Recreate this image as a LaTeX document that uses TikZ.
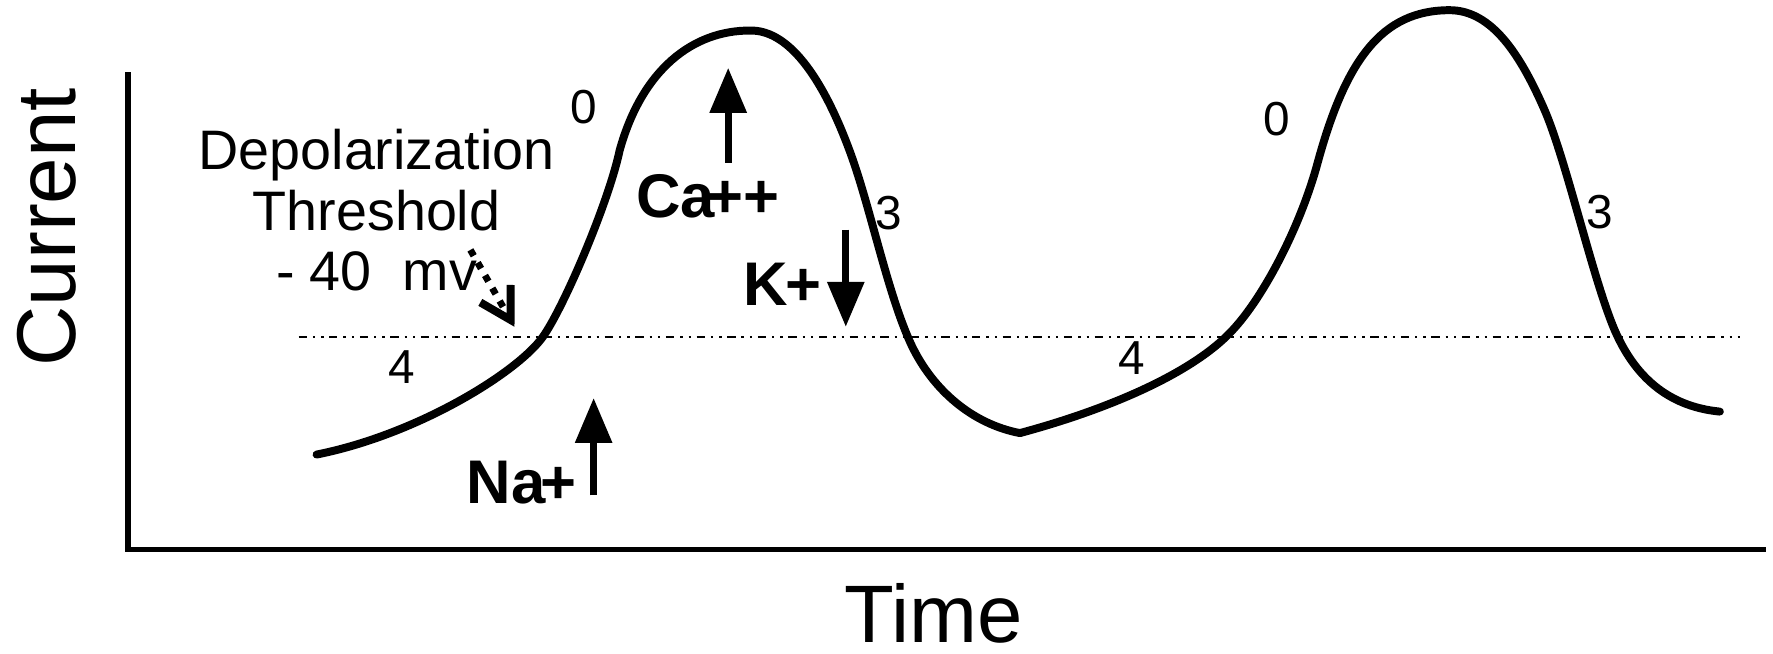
\documentclass[tikz,border=0pt]{standalone}
\usepackage{fontspec}
\setmainfont{Liberation Sans}
\usetikzlibrary{arrows.meta}

\begin{document}
\begin{tikzpicture}[x=0.01cm, y=-0.01cm,
		axis/.style={line width=1.4pt, line join=miter},
		trace/.style={line width=2pt, line cap=round, line join=round},
		threshold/.style={line width=0.45pt, dash pattern=on 2.1pt off 1.5pt on 0.6pt off 1.5pt on 0.6pt off 1.4pt},
		ionarrow/.style={line width=1.7pt, -{Triangle[length=11.3pt, width=9pt]}},
		ion/.style={font=\bfseries\fontsize{15.5}{18}\selectfont, inner sep=0pt, anchor=base west},
		phase/.style={font=\fontsize{12}{14}\selectfont, inner sep=0pt, anchor=base},
		axislabel/.style={font=\fontsize{21}{25}\selectfont, inner sep=0pt, anchor=base}]
	\useasboundingbox (0,0) rectangle (1568,578);

	% axes
	\coordinate (origin) at (113,486);
	\coordinate (ytop) at (113,64);
	\coordinate (xend) at (1562,486);
	\draw[axis] (ytop) -- (origin) -- (xend);
	\node[axislabel, rotate=90] (current) at (67,201) {Current};
	\node[axislabel, font=\fontsize{20.5}{24}\selectfont] (time) at (826,568) {Time};

	% threshold level
	\coordinate (thleft) at (264,298);
	\coordinate (thright) at (1539,298);
	\draw[threshold] (thleft) -- (thright);

	% two action potentials
	\coordinate (trough) at (902,383);
	\draw[trace] (280,402) .. controls (370,384) and (458,329) .. (480,298)
		.. controls (498,273) and (538,180) .. (548,133)
		.. controls (568,61) and (613,27) .. (663,27)
		.. controls (700,26) and (730,75) .. (752,135)
		.. controls (770,184) and (785,260) .. (806,305)
		.. controls (825,345) and (860,375) .. (trough);
	\draw[trace] (trough) .. controls (980,362) and (1055,330) .. (1090,292)
		.. controls (1118,262) and (1150,200) .. (1165,145)
		.. controls (1190,53) and (1222,9) .. (1282,9)
		.. controls (1320,9) and (1345,50) .. (1365,95)
		.. controls (1385,140) and (1408,245) .. (1428,292)
		.. controls (1448,338) and (1480,360) .. (1521,364);

	% phase numbers
	\node[phase] (p4a) at (355,339) {4};
	\node[phase] (p0a) at (516,109) {0};
	\node[phase] (p3a) at (786,203) {3};
	\node[phase] (p4b) at (1001,331) {4};
	\node[phase] (p0b) at (1129,120) {0};
	\node[phase] (p3b) at (1415,202) {3};

	% threshold label
	\node[font=\fontsize{14}{15.2}\selectfont, align=center, inner sep=0pt] (thlabel) at (333,186) {Depolarization\\Threshold\\- 40\ \ mv};
	\coordinate (mvtail) at (416,221);
	\coordinate (mvtip) at (455,289);
	\draw[line width=1.7pt, dash pattern=on 1.7pt off 2pt, -{Straight Barb[length=7.6pt, width=8.8pt, line width=2pt]}] (mvtail) -- (mvtip);

	% ion currents
	\coordinate (natail) at (525,438);
	\coordinate (natip) at (525,352);
	\draw[ionarrow] (natail) -- (natip);
	\node[ion] (na) at (412,445) {Na\kern-0.08em+};
	\coordinate (catail) at (644,144);
	\coordinate (catip) at (644,60);
	\draw[ionarrow] (catail) -- (catip);
	\node[ion] (ca) at (562,192) {Ca\kern-0.12em++};
	\coordinate (ktail) at (748,203);
	\coordinate (ktip) at (748,289);
	\draw[ionarrow] (ktail) -- (ktip);
	\node[ion] (k) at (657,270) {K\kern-0.05em+};
\end{tikzpicture}
\end{document}
